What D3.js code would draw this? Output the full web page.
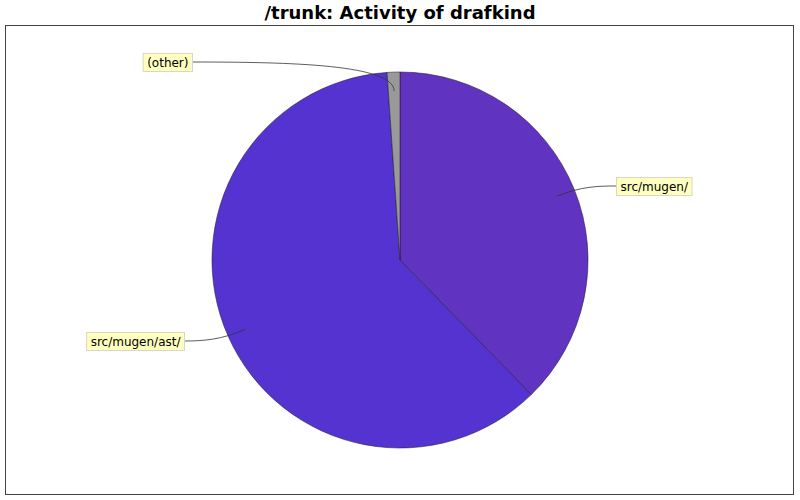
<!DOCTYPE html>
<html><head><meta charset="utf-8">
<script src="https://cdn.jsdelivr.net/npm/d3@7/dist/d3.min.js"></script>
<style>body{margin:0;background:#fff;}svg{display:block;}</style>
</head><body>
<script>
const categories = ["src/mugen/", "src/mugen/ast/", "(other)"];
const values = [37.7, 61.2, 1.1];
const colors = ["#6033c0", "#5433d0", "#999999"];
const title = "/trunk: Activity of drafkind";
const labelPos = [[616, 186, "right"], [184, 341, "left"], [192, 62, "left"]];

const W = 800, H = 500;
const svg = d3.select("body").append("svg").attr("width", W).attr("height", H);
svg.append("rect").attr("width", W).attr("height", H).attr("fill", "#fff");

svg.append("text").attr("x", 400).attr("y", 19).attr("text-anchor", "middle")
  .attr("font-family", "DejaVu Sans").attr("font-weight", "bold").attr("font-size", 18)
  .text(title);

svg.append("rect").attr("x", 5.5).attr("y", 25.5).attr("width", 788).attr("height", 469)
  .attr("fill", "#fff").attr("stroke", "#444").attr("stroke-width", 1);

const cx = 400, cy = 260, R = 188;
const data = categories.map((c, i) => ({ c, v: values[i], i }));
const pie = d3.pie().value(d => d.v).sort(null);
const arcs = pie(data);
const arc = d3.arc().innerRadius(0).outerRadius(R);
const g = svg.append("g").attr("transform", `translate(${cx},${cy})`);
g.selectAll("path.slice").data(arcs).join("path").attr("class", "slice")
  .attr("d", arc).attr("fill", d => colors[d.data.i])
  .attr("stroke", "#2a2040").attr("stroke-width", 0.6);

// leader links and labels
const pt = (a, r) => [cx + Math.sin(a) * r, cy - Math.cos(a) * r];
arcs.forEach((d, k) => {
  const mid = (d.startAngle + d.endAngle) / 2;
  const link = pt(mid, R * 0.9);
  const elbow = pt(mid, R * 1.04);
  const [tx, ty, side] = labelPos[k];
  const p = d3.path();
  p.moveTo(tx, ty);
  p.bezierCurveTo((tx + elbow[0]) / 2, ty, elbow[0], elbow[1], link[0], link[1]);
  svg.append("path").attr("d", p.toString()).attr("fill", "none")
    .attr("stroke", "#333").attr("stroke-width", 0.8);
  const lbl = svg.append("g");
  const t = lbl.append("text").attr("font-family", "DejaVu Sans").attr("font-size", 12)
    .attr("fill", "#000").text(d.data.c);
  const bw = t.node().getComputedTextLength() + 8, bh = 18;
  const bx = side === "right" ? tx : tx - bw;
  lbl.insert("rect", "text").attr("x", bx + 0.5).attr("y", ty - bh / 2 + 0.5)
    .attr("width", bw).attr("height", bh).attr("fill", "#ffffc0").attr("stroke", "#d8d8c0");
  t.attr("x", bx + 4.5).attr("y", ty + 4.5);
});
</script>
</body></html>
